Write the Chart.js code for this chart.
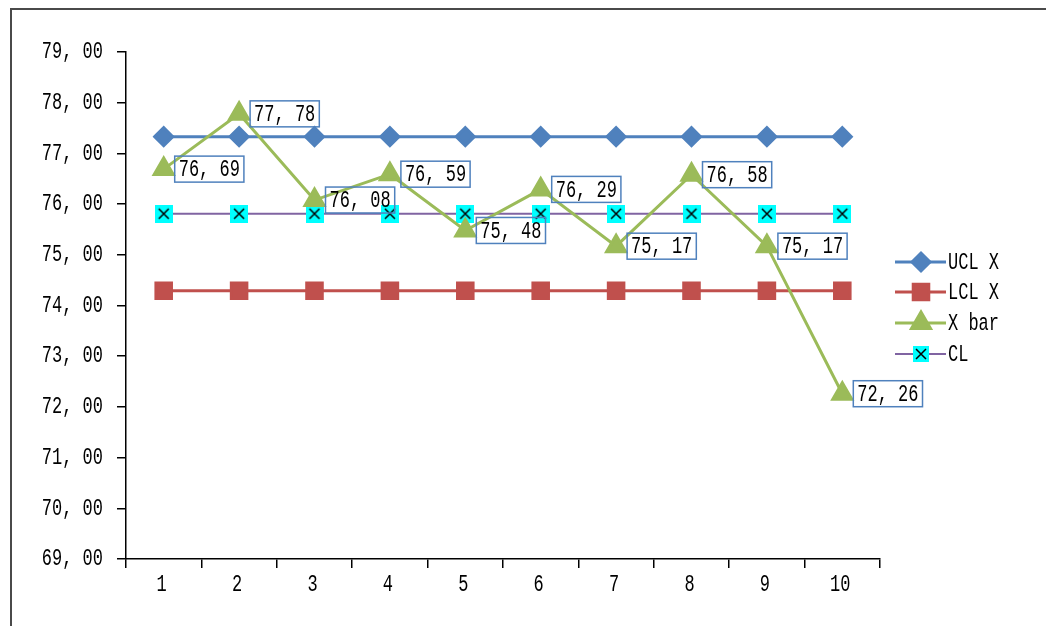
<!DOCTYPE html>
<html>
<head>
<meta charset="utf-8">
<script src="https://cdn.jsdelivr.net/npm/chart.js@4.4.1/dist/chart.umd.min.js"></script>
<style>
  html, body { margin: 0; padding: 0; background: #fff; overflow: hidden; }
  #wrap { position: relative; width: 1046px; height: 626px; }
  #frame { position: absolute; left: 10px; top: 8px; width: 1100px; height: 700px;
           border: 2px solid #4a4a4a; box-sizing: border-box; pointer-events: none; }
  canvas { position: absolute; left: 0; top: 0; }
</style>
</head>
<body>
<div id="wrap">
  <canvas id="c" width="1046" height="626"></canvas>
  <div id="frame"></div>
</div>
<script>
// Control chart values
const categories = ['1', '2', '3', '4', '5', '6', '7', '8', '9', '10'];
const uclValues  = [77.33, 77.33, 77.33, 77.33, 77.33, 77.33, 77.33, 77.33, 77.33, 77.33];
const lclValues  = [74.29, 74.29, 74.29, 74.29, 74.29, 74.29, 74.29, 74.29, 74.29, 74.29];
const xbarValues = [76.69, 77.78, 76.08, 76.59, 75.48, 76.29, 75.17, 76.58, 75.17, 72.26];
const clValues   = [75.81, 75.81, 75.81, 75.81, 75.81, 75.81, 75.81, 75.81, 75.81, 75.81];
const seriesNames = ['UCL X', 'LCL X', 'X bar', 'CL'];

const FONT = '"Liberation Mono", "DejaVu Sans Mono", monospace';
const TEXT_FONT = '17px ' + FONT;
const fmt = v => v.toFixed(2).replace('.', ', ');

// Tall, narrow lettering: monospace glyphs stretched vertically
function tallText(ctx, txt, x, y, align) {
  ctx.save();
  ctx.font = TEXT_FONT;
  ctx.textAlign = align || 'left';
  ctx.textBaseline = 'middle';
  ctx.fillStyle = '#000';
  ctx.translate(x, y);
  ctx.scale(1, 1.38);
  ctx.fillText(txt, 0, 0);
  ctx.restore();
}

// Cyan box with a black cross, used as the CL marker
function crossBox(size) {
  const c = document.createElement('canvas');
  c.width = size; c.height = size;
  const g = c.getContext('2d');
  g.fillStyle = '#00FFFF';
  g.fillRect(0, 0, size, size);
  g.strokeStyle = '#000';
  g.lineWidth = 1.5;
  const m = Math.round(size * 0.2);
  g.beginPath();
  g.moveTo(m, m); g.lineTo(size - m, size - m);
  g.moveTo(size - m, m); g.lineTo(m, size - m);
  g.stroke();
  return c;
}
const clMarker = crossBox(18);
const clLegendMarker = crossBox(16);

// Axis tick labels, placed from the scales' own ticks
const axisLabels = {
  id: 'axisLabels',
  afterDraw(chart) {
    const ctx = chart.ctx;
    const ys = chart.scales.y;
    ys.ticks.forEach((t, i) => {
      tallText(ctx, fmt(t.value), ys.right - 23, ys.getPixelForTick(i), 'right');
    });
    const xs = chart.scales.x;
    xs.ticks.forEach((t, i) => {
      tallText(ctx, categories[i], xs.getPixelForTick(i) - 2, xs.top + 26, 'center');
    });
  }
};

// Boxed value labels beside the X bar points
const valueLabels = {
  id: 'valueLabels',
  afterDatasetsDraw(chart) {
    const ctx = chart.ctx;
    const meta = chart.getDatasetMeta(2);
    const data = chart.data.datasets[2].data;
    ctx.save();
    ctx.font = TEXT_FONT;
    meta.data.forEach((pt, i) => {
      const txt = fmt(data[i]);
      const w = ctx.measureText(txt).width + 8;
      const h = 26;
      const x = pt.x + 11;
      const y = pt.y - h / 2;
      ctx.strokeStyle = '#4F81BD';
      ctx.lineWidth = 1.5;
      ctx.strokeRect(x, y, w, h);
      tallText(ctx, txt, x + 4, pt.y + 1, 'left');
    });
    ctx.restore();
  }
};

// Legend at the right: line sample with marker, then the series name
const sideLegend = {
  id: 'sideLegend',
  afterDraw(chart) {
    const ctx = chart.ctx;
    const rows = [262, 292, 323, 354];
    const x0 = 895, x1 = 946, xm = 921;
    chart.data.datasets.forEach((ds, i) => {
      const y = rows[i];
      ctx.save();
      ctx.strokeStyle = ds.borderColor;
      ctx.lineWidth = ds.borderWidth;
      ctx.beginPath();
      ctx.moveTo(x0, y); ctx.lineTo(x1, y);
      ctx.stroke();
      if (i === 3) {
        ctx.drawImage(clLegendMarker, xm - 8, y - 8);
      } else {
        ctx.fillStyle = ds.pointBackgroundColor;
        ctx.strokeStyle = ds.pointBorderColor;
        Chart.helpers.drawPoint(ctx, {
          pointStyle: ds.pointStyle, radius: ds.pointRadius, rotation: 0, borderWidth: 1
        }, xm, y);
      }
      ctx.restore();
      tallText(ctx, ds.label, 948, y + 1, 'left');
    });
  }
};

const hidden = 'rgba(0,0,0,0)';

new Chart(document.getElementById('c'), {
  type: 'line',
  data: {
    labels: categories,
    datasets: [
      { label: seriesNames[0], data: uclValues, borderColor: '#4F81BD', borderWidth: 3,
        pointStyle: 'rectRot', pointRadius: 9, pointBackgroundColor: '#4F81BD',
        pointBorderColor: '#4F81BD', order: 3 },
      { label: seriesNames[1], data: lclValues, borderColor: '#C0504D', borderWidth: 3,
        pointStyle: 'rect', pointRadius: 11, pointBackgroundColor: '#C0504D',
        pointBorderColor: '#C0504D', order: 4 },
      { label: seriesNames[2], data: xbarValues, borderColor: '#9BBB59', borderWidth: 3,
        pointStyle: 'triangle', pointRadius: 11, pointBackgroundColor: '#9BBB59',
        pointBorderColor: '#9BBB59', order: 1 },
      { label: seriesNames[3], data: clValues, borderColor: '#8064A2', borderWidth: 2,
        pointStyle: clMarker, pointRadius: 9, pointBackgroundColor: '#00FFFF',
        pointBorderColor: '#000', order: 2 }
    ]
  },
  options: {
    responsive: false,
    animation: false,
    events: [],
    layout: { padding: { left: 0, top: 52, right: 166, bottom: 0 } },
    plugins: { legend: { display: false }, tooltip: { enabled: false } },
    elements: { line: { tension: 0 } },
    scales: {
      x: {
        offset: true,
        grid: { offset: true, drawOnChartArea: false, drawTicks: true, tickLength: 9,
                color: '#000', lineWidth: 1.5 },
        border: { display: true, color: '#000', width: 1.5 },
        ticks: { color: hidden, font: { family: FONT, size: 17 }, padding: 8,
                 maxRotation: 0, autoSkip: false },
        afterFit(scale) { scale.height = 67; }
      },
      y: {
        min: 69, max: 79,
        grid: { drawOnChartArea: false, drawTicks: true, tickLength: 9,
                color: '#000', lineWidth: 1.5 },
        border: { display: true, color: '#000', width: 1.5 },
        ticks: { stepSize: 1, color: hidden, font: { family: FONT, size: 17 }, padding: 14,
                 callback: v => fmt(v) },
        afterFit(scale) { scale.width = 126; }
      }
    }
  },
  plugins: [valueLabels, axisLabels, sideLegend]
});
</script>
</body>
</html>
